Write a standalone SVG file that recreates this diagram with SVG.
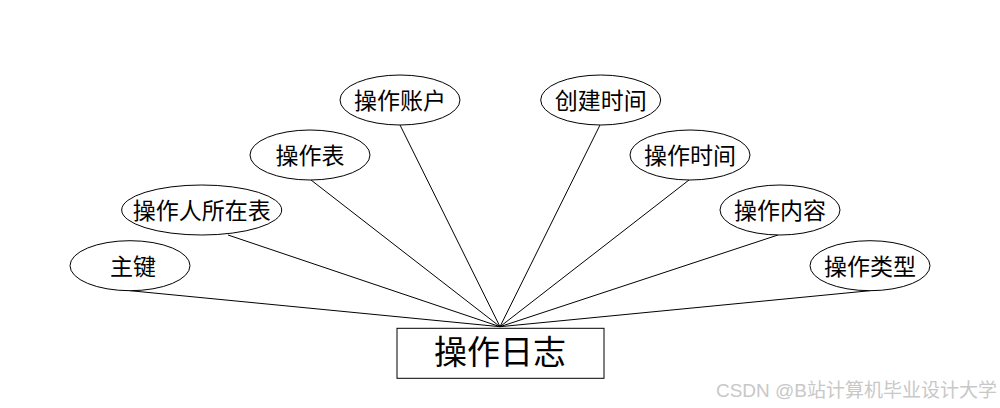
<svg xmlns="http://www.w3.org/2000/svg" width="1000" height="408" viewBox="0 0 1000 408">
<style>
.attr ellipse{fill:#fff;stroke:#000;stroke-width:1}
.attr text{font-family:"Noto Sans CJK SC","Noto Sans",sans-serif;font-size:23px;fill:#000;text-anchor:middle}
#connectors line{stroke:#000;stroke-width:1}
.ent rect{fill:#fff;stroke:#000;stroke-width:1}
.ent text{font-family:"Noto Sans CJK SC","Noto Sans",sans-serif;font-size:33px;fill:#000;text-anchor:middle}
.wm{font-family:"Liberation Sans","Noto Sans CJK SC",sans-serif;font-size:19px;fill:#c8c8c8;text-anchor:end}
</style>
<rect width="1000" height="408" fill="#fff"/>
<g id="connectors">
<line x1="130" y1="290.7" x2="500" y2="326.7"/>
<line x1="228" y1="235" x2="500" y2="326.7"/>
<line x1="311" y1="180" x2="500" y2="326.7"/>
<line x1="400" y1="125" x2="500" y2="326.7"/>
<line x1="600" y1="125" x2="500" y2="326.7"/>
<line x1="689" y1="180" x2="500" y2="326.7"/>
<line x1="778" y1="235" x2="500" y2="326.7"/>
<line x1="870" y1="290.7" x2="500" y2="326.7"/>
</g>
<g id="attr-zhujian" class="attr"><ellipse cx="130" cy="265.7" rx="60" ry="25"/><text x="133" y="274.5">主键</text></g>
<g id="attr-czrszb" class="attr"><ellipse cx="201.7" cy="210" rx="80" ry="25"/><text x="201.7" y="219">操作人所在表</text></g>
<g id="attr-czb" class="attr"><ellipse cx="310" cy="155" rx="60" ry="25"/><text x="310" y="164">操作表</text></g>
<g id="attr-czzh" class="attr"><ellipse cx="400" cy="100" rx="60" ry="25"/><text x="400" y="109">操作账户</text></g>
<g id="attr-cjsj" class="attr"><ellipse cx="600.7" cy="100" rx="60" ry="25"/><text x="600.7" y="109">创建时间</text></g>
<g id="attr-czsj" class="attr"><ellipse cx="690" cy="155" rx="60" ry="25"/><text x="690" y="164">操作时间</text></g>
<g id="attr-cznr" class="attr"><ellipse cx="780" cy="210" rx="60" ry="25"/><text x="780" y="219">操作内容</text></g>
<g id="attr-czlx" class="attr"><ellipse cx="870" cy="265.7" rx="60" ry="25"/><text x="870" y="274.5">操作类型</text></g>
<g id="entity-czrz" class="ent"><rect x="397" y="328.3" width="207" height="50"/><text x="500" y="364">操作日志</text></g>
<text class="wm" x="997" y="397">CSDN @B站计算机毕业设计大学</text>
</svg>
